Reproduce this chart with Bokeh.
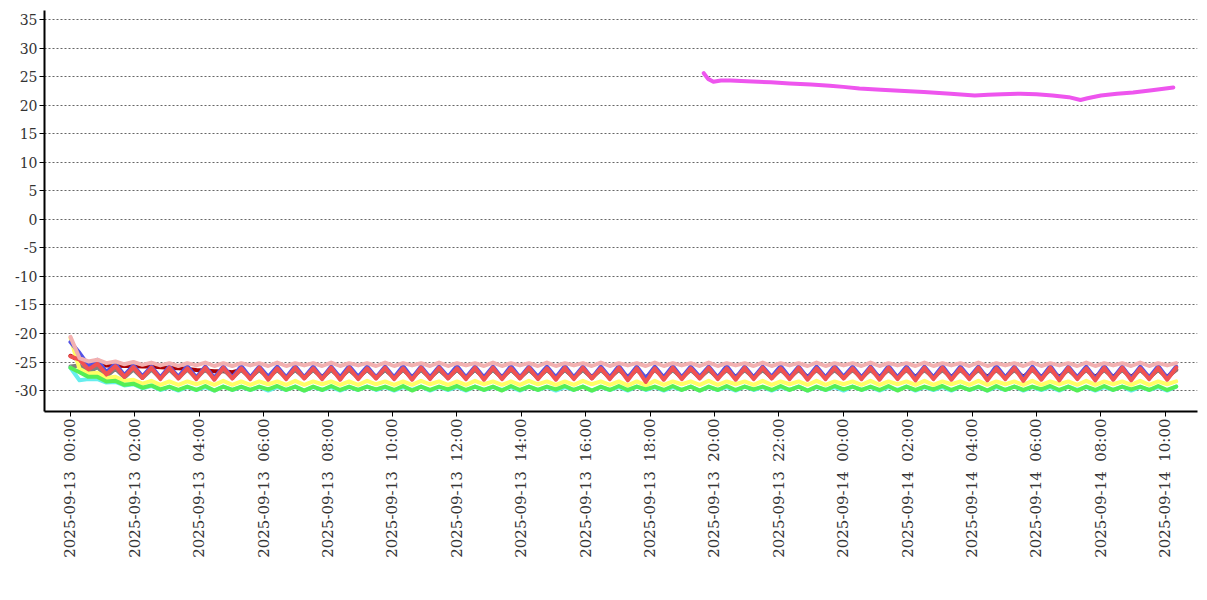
import math
import pandas as pd
from bokeh.plotting import figure
from bokeh.models import (Range1d, FixedTicker, DatetimeTickFormatter, Legend, LegendItem,
                          PrintfTickFormatter)
from bokeh.embed import file_html
from bokeh.resources import INLINE

# ---------------- data ----------------
series_names = ["A01", "A02", "A03", "A04", "A05", "A06", "A07", "A08", "A09"]
series_colors = ["#f05252", "#5252e6", "#55ee55", "#ffff66", "#ee55ee",
                 "#66eeee", "#f2b0b0", "#808080", "#aa0000"]

start_time = "2025-09-13 00:00"
sample_step = "1005s"   # logger sampling (about 16.75 min)

A01 = [-24.0, -24.6, -26.3, -25.3, -27.2, -25.7, -27.6, -25.9, -27.8, -26.0,
       -28.0, -26.0, -27.9, -26.1, -28.0, -26.0, -28.1, -26.0, -27.9, -26.1,
       -28.0, -26.0, -28.1, -26.1, -28.0, -26.0, -27.9, -26.1, -28.0, -26.0,
       -28.1, -26.0, -28.0, -26.1, -27.9, -26.0, -28.0, -26.1, -28.1, -26.0,
       -28.0, -26.0, -27.9, -26.1, -28.0, -26.0, -28.1, -26.0, -28.0, -26.1,
       -27.9, -26.0, -28.0, -26.1, -28.1, -26.0, -28.0, -26.0, -27.9, -26.1,
       -28.0, -26.0, -28.2, -26.1, -28.5, -26.1, -28.1, -26.0, -28.0, -26.1,
       -27.9, -26.0, -28.0, -26.1, -28.1, -26.0, -28.0, -26.0, -27.9, -26.1,
       -28.0, -26.0, -28.1, -26.1, -28.0, -26.0, -27.9, -26.1, -28.0, -26.0,
       -28.1, -26.0, -28.0, -26.1, -28.2, -26.0, -28.0, -26.0, -28.1, -26.1,
       -28.0, -26.0, -28.2, -26.1, -28.0, -26.0, -28.3, -26.1, -28.1, -26.0,
       -28.2, -26.0, -28.0, -26.1, -28.2, -26.0, -28.1, -26.0, -28.2, -26.1,
       -28.0, -26.0, -28.1, -26.0]

A02 = [-21.5, -23.4, -25.6, -24.6, -26.8, -25.3, -27.3, -25.6, -27.5, -25.8,
       -27.7, -25.8, -27.6, -25.7, -27.7, -25.8, -27.8, -25.8, -27.7, -25.7,
       -27.7, -25.8, -27.6, -25.8, -27.7, -25.7, -27.7, -25.8, -27.8, -25.8,
       -27.7, -25.7, -27.6, -25.8, -27.7, -25.8, -27.7, -25.7, -27.8, -25.8,
       -27.7, -25.8, -27.6, -25.7, -27.7, -25.8, -27.7, -25.8, -27.8, -25.7,
       -27.7, -25.8, -27.6, -25.8, -27.7, -25.7, -27.7, -25.8, -27.8, -25.8,
       -27.7, -25.7, -27.8, -25.8, -27.9, -25.8, -27.7, -25.7, -27.7, -25.8,
       -27.6, -25.8, -27.7, -25.7, -27.8, -25.8, -27.7, -25.8, -27.6, -25.7,
       -27.7, -25.8, -27.8, -25.8, -27.7, -25.7, -27.6, -25.8, -27.7, -25.8,
       -27.8, -25.7, -27.7, -25.8, -27.8, -25.8, -27.7, -25.7, -27.8, -25.8,
       -27.7, -25.8, -27.9, -25.7, -27.7, -25.8, -27.9, -25.8, -27.8, -25.7,
       -27.9, -25.8, -27.7, -25.8, -27.9, -25.7, -27.8, -25.8, -27.9, -25.8,
       -27.7, -25.7, -27.8, -25.8]

A03 = [-26.0, -26.8, -27.6, -27.6, -28.4, -28.3, -29.0, -28.8, -29.5, -29.1,
       -29.8, -29.3, -29.9, -29.3, -29.9, -29.2, -30.0, -29.3, -29.9, -29.3,
       -29.9, -29.3, -29.8, -29.2, -29.9, -29.3, -30.0, -29.3, -29.9, -29.2,
       -29.9, -29.3, -29.9, -29.3, -29.8, -29.3, -29.9, -29.2, -30.0, -29.3,
       -29.9, -29.3, -29.8, -29.2, -29.9, -29.3, -29.9, -29.3, -30.0, -29.2,
       -29.9, -29.3, -29.9, -29.3, -29.8, -29.2, -29.9, -29.3, -30.0, -29.3,
       -29.9, -29.2, -29.9, -29.3, -29.8, -29.3, -29.9, -29.2, -29.9, -29.3,
       -30.0, -29.3, -29.9, -29.2, -29.9, -29.3, -29.8, -29.3, -29.9, -29.2,
       -29.9, -29.3, -30.0, -29.3, -29.9, -29.2, -29.8, -29.3, -29.9, -29.3,
       -29.9, -29.2, -30.0, -29.3, -29.9, -29.3, -29.8, -29.2, -29.9, -29.3,
       -29.9, -29.3, -30.0, -29.2, -29.9, -29.3, -29.9, -29.3, -29.8, -29.2,
       -29.9, -29.3, -30.0, -29.3, -29.9, -29.2, -29.9, -29.3, -29.8, -29.3,
       -29.9, -29.2, -29.9, -29.3]

A04 = [-20.8, -26.2, -27.0, -26.9, -27.8, -27.6, -28.3, -28.1, -28.8, -28.3,
       -29.0, -28.4, -29.0, -28.4, -28.9, -28.4, -29.0, -28.3, -29.0, -28.4,
       -29.0, -28.4, -28.9, -28.4, -29.0, -28.3, -29.0, -28.4, -28.9, -28.4,
       -29.0, -28.4, -29.0, -28.3, -28.9, -28.4, -29.0, -28.4, -29.0, -28.3,
       -28.9, -28.4, -29.0, -28.4, -29.0, -28.3, -28.9, -28.4, -29.0, -28.4,
       -29.0, -28.3, -28.9, -28.4, -29.0, -28.4, -29.0, -28.3, -28.9, -28.4,
       -29.0, -28.4, -29.1, -28.4, -29.1, -28.3, -29.0, -28.4, -28.9, -28.4,
       -29.0, -28.3, -29.0, -28.4, -28.9, -28.4, -29.0, -28.3, -29.0, -28.4,
       -28.9, -28.4, -29.0, -28.3, -29.0, -28.4, -28.9, -28.4, -29.0, -28.3,
       -29.0, -28.4, -28.9, -28.4, -29.0, -28.3, -29.0, -28.4, -28.9, -28.4,
       -29.0, -28.3, -29.0, -28.4, -28.9, -28.4, -29.0, -28.3, -29.0, -28.4,
       -28.9, -28.4, -29.0, -28.3, -29.0, -28.4, -28.9, -28.4, -29.0, -28.3,
       -29.0, -28.4, -28.9, -28.4]

A06 = [-26.0, -28.2, -28.0, -28.0, -28.6, -28.5, -29.1, -28.9, -29.6, -29.2,
       -29.9, -29.4, -30.0, -29.4, -29.9, -29.4, -30.0, -29.3, -29.9, -29.4,
       -29.9, -29.4, -30.0, -29.4, -29.9, -29.3, -30.0, -29.4, -29.9, -29.4,
       -30.0, -29.4, -29.9, -29.3, -29.9, -29.4, -30.0, -29.4, -29.9, -29.3,
       -30.0, -29.4, -29.9, -29.4, -30.0, -29.3, -29.9, -29.4, -29.9, -29.4,
       -30.0, -29.3, -29.9, -29.4, -30.0, -29.4, -29.9, -29.3, -30.0, -29.4,
       -29.9, -29.4, -30.0, -29.3, -29.9, -29.4, -30.0, -29.4, -29.9, -29.3,
       -30.0, -29.4, -29.9, -29.4, -30.0, -29.3, -29.9, -29.4, -30.0, -29.4,
       -29.9, -29.3, -30.0, -29.4, -29.9, -29.4, -30.0, -29.3, -29.9, -29.4,
       -30.0, -29.4, -29.9, -29.3, -30.0, -29.4, -29.9, -29.4, -30.0, -29.3,
       -29.9, -29.4, -30.0, -29.4, -29.9, -29.3, -30.0, -29.4, -29.9, -29.4,
       -30.0, -29.3, -29.9, -29.4, -30.0, -29.4, -29.9, -29.3, -30.0, -29.4,
       -29.9, -29.4, -30.0, -29.3]

A07 = [-20.6, -24.3, -24.9, -24.6, -25.2, -24.9, -25.4, -25.0, -25.5, -25.1,
       -25.6, -25.2, -25.7, -25.2, -25.6, -25.1, -25.7, -25.2, -25.7, -25.2,
       -25.6, -25.2, -25.7, -25.1, -25.7, -25.2, -25.6, -25.2, -25.7, -25.1,
       -25.7, -25.2, -25.6, -25.2, -25.7, -25.1, -25.7, -25.2, -25.6, -25.2,
       -25.7, -25.1, -25.7, -25.2, -25.6, -25.2, -25.7, -25.1, -25.7, -25.2,
       -25.6, -25.2, -25.7, -25.1, -25.7, -25.2, -25.6, -25.2, -25.7, -25.1,
       -25.7, -25.2, -25.6, -25.2, -25.7, -25.1, -25.7, -25.2, -25.6, -25.2,
       -25.7, -25.1, -25.7, -25.2, -25.6, -25.2, -25.7, -25.1, -25.7, -25.2,
       -25.6, -25.2, -25.7, -25.1, -25.7, -25.2, -25.6, -25.2, -25.7, -25.1,
       -25.7, -25.2, -25.6, -25.2, -25.7, -25.1, -25.7, -25.2, -25.6, -25.2,
       -25.7, -25.1, -25.7, -25.2, -25.6, -25.2, -25.7, -25.1, -25.7, -25.2,
       -25.6, -25.2, -25.7, -25.1, -25.7, -25.2, -25.6, -25.2, -25.7, -25.1,
       -25.7, -25.2, -25.6, -25.2]

A08 = [-25.8, -25.6, -26.8, -25.9, -27.5, -26.2, -27.7, -26.3, -27.8, -26.3,
       -27.8, -26.3, -27.8, -26.3, -27.8, -26.3, -27.8, -26.3, -27.8, -26.3,
       -27.8, -26.3, -27.8, -26.3, -27.8, -26.3, -27.8, -26.3, -27.8, -26.3,
       -27.8, -26.3, -27.8, -26.3, -27.8, -26.3, -27.8, -26.3, -27.8, -26.3,
       -27.8, -26.3, -27.8, -26.3, -27.8, -26.3, -27.8, -26.3, -27.8, -26.3,
       -27.8, -26.3, -27.8, -26.3, -27.8, -26.3, -27.8, -26.3, -27.8, -26.3,
       -27.8, -26.3, -27.8, -26.3, -27.9, -26.3, -27.8, -26.3, -27.8, -26.3,
       -27.8, -26.3, -27.8, -26.3, -27.8, -26.3, -27.8, -26.3, -27.8, -26.3,
       -27.8, -26.3, -27.8, -26.3, -27.8, -26.3, -27.8, -26.3, -27.8, -26.3,
       -27.8, -26.3, -27.8, -26.3, -27.8, -26.3, -27.8, -26.3, -27.8, -26.3,
       -27.8, -26.3, -27.8, -26.3, -27.8, -26.3, -27.8, -26.3, -27.8, -26.3,
       -27.8, -26.3, -27.8, -26.3, -27.8, -26.3, -27.8, -26.3, -27.8, -26.3,
       -27.8, -26.3, -27.8, -26.3]

A09 = [-23.9, -24.8, -25.3, -25.4, -25.6, -25.6, -25.7, -25.7, -25.8, -25.8,
       -25.9, -26.0, -26.1, -26.2, -26.4, -26.5, -26.6, -26.6, -26.8, -26.4,
       -27.6, -26.4, -27.6, -26.4, -27.6, -26.4, -27.6, -26.4, -27.6, -26.4,
       -27.6, -26.4, -27.6, -26.4, -27.6, -26.4, -27.6, -26.4, -27.6, -26.4,
       -27.6, -26.4, -27.6, -26.4, -27.6, -26.4, -27.6, -26.4, -27.6, -26.4,
       -27.6, -26.4, -27.6, -26.4, -27.6, -26.4, -27.6, -26.4, -27.6, -26.4,
       -27.6, -26.4, -27.6, -26.4, -27.7, -26.4, -27.6, -26.4, -27.6, -26.4,
       -27.6, -26.4, -27.6, -26.4, -27.6, -26.4, -27.6, -26.4, -27.6, -26.4,
       -27.6, -26.4, -27.6, -26.4, -27.6, -26.4, -27.6, -26.4, -27.6, -26.4,
       -27.6, -26.4, -27.6, -26.4, -27.6, -26.4, -27.6, -26.4, -27.6, -26.4,
       -27.6, -26.4, -27.6, -26.4, -27.6, -26.4, -27.6, -26.4, -27.6, -26.4,
       -27.6, -26.4, -27.6, -26.4, -27.6, -26.4, -27.6, -26.4, -27.6, -26.4,
       -27.6, -26.4, -27.6, -26.4]

A05_times = ["2025-09-13 19:40", "2025-09-13 19:48", "2025-09-13 19:58", "2025-09-13 20:12",
             "2025-09-13 20:30", "2025-09-13 21:00", "2025-09-13 21:45", "2025-09-13 22:20",
             "2025-09-13 23:00", "2025-09-13 23:35", "2025-09-14 00:00", "2025-09-14 00:30",
             "2025-09-14 01:10", "2025-09-14 01:45", "2025-09-14 02:30", "2025-09-14 03:20",
             "2025-09-14 04:05", "2025-09-14 04:30", "2025-09-14 04:55", "2025-09-14 05:30",
             "2025-09-14 06:00", "2025-09-14 06:30", "2025-09-14 07:00", "2025-09-14 07:22",
             "2025-09-14 07:35", "2025-09-14 08:00", "2025-09-14 08:30", "2025-09-14 09:00",
             "2025-09-14 09:35", "2025-09-14 10:15"]
A05 = [25.6, 24.6, 24.1, 24.3, 24.3, 24.2, 24.0, 23.8, 23.6, 23.4,
       23.2, 22.9, 22.7, 22.5, 22.3, 22.0, 21.7, 21.8, 21.9, 22.0,
       21.9, 21.7, 21.4, 20.9, 21.2, 21.7, 22.0, 22.2, 22.6, 23.1]

y_ticks = [-30, -25, -20, -15, -10, -5, 0, 5, 10, 15, 20, 25, 30, 35]
x_tick_start = "2025-09-13 00:00"
x_tick_count = 18
x_tick_step = "2h"
x_start = "2025-09-12 23:11:36"
x_end = "2025-09-14 11:00"
y_start, y_end = -33.67, 36.58

# ---------------- figure ----------------
FONT = "DejaVu Serif"

p = figure(frame_width=1153, frame_height=401, x_axis_type="datetime",
           output_backend="svg", toolbar_location=None,
           x_range=Range1d(pd.Timestamp(x_start), pd.Timestamp(x_end)),
           y_range=Range1d(y_start, y_end),
           min_border_left=44, min_border_right=10, min_border_top=10,
           min_border_bottom=0)
p.outline_line_color = None
p.background_fill_color = "white"
p.border_fill_color = "white"

p.xgrid.grid_line_color = None
p.ygrid.grid_line_color = "#666666"
p.ygrid.grid_line_dash = "2 2"
p.ygrid.grid_line_width = 1

# y axis
p.yaxis.ticker = FixedTicker(ticks=y_ticks)
p.yaxis.formatter = PrintfTickFormatter(format="%d")
p.yaxis.axis_line_width = 2
p.yaxis.axis_line_color = "black"
p.yaxis.major_tick_out = 5
p.yaxis.major_tick_in = 0
p.yaxis.minor_tick_line_color = None
p.yaxis.major_label_standoff = 2
p.yaxis.major_label_text_font = FONT
p.yaxis.major_label_text_font_size = "14px"
p.yaxis.major_label_text_color = "#333333"

# x axis
tick_times = pd.date_range(x_tick_start, periods=x_tick_count, freq=x_tick_step)
tick_ms = [int((t - pd.Timestamp("1970-01-01")) / pd.Timedelta("1ms")) for t in tick_times]
p.xaxis.ticker = FixedTicker(ticks=tick_ms)
fmt = "%Y-%m-%d\u00a0\u00a0%H:%M"
p.xaxis.formatter = DatetimeTickFormatter(
    milliseconds=fmt, seconds=fmt, minsec=fmt, minutes=fmt, hourmin=fmt,
    hours=fmt, days=fmt, months=fmt, years=fmt)
p.xaxis.major_label_orientation = math.pi / 2
p.xaxis.axis_line_width = 2
p.xaxis.axis_line_color = "black"
p.xaxis.major_tick_out = 5
p.xaxis.major_tick_in = 0
p.xaxis.minor_tick_line_color = None
p.xaxis.major_label_standoff = 2
p.xaxis.major_label_text_font = FONT
p.xaxis.major_label_text_font_size = "15px"
p.xaxis.major_label_text_color = "#333333"

# ---------------- lines ----------------
values = {"A01": A01, "A02": A02, "A03": A03, "A04": A04, "A06": A06,
          "A07": A07, "A08": A08, "A09": A09}
colors = dict(zip(series_names, series_colors))
draw_order = ["A09", "A08", "A04", "A06", "A03", "A02", "A01", "A07", "A05"]
renderers = {}
for name in draw_order:
    if name == "A05":
        xs = pd.to_datetime(A05_times)
        ys = A05
    else:
        ys = values[name]
        xs = pd.date_range(start_time, periods=len(ys), freq=sample_step)
    renderers[name] = p.line(x=xs, y=ys, line_color=colors[name], line_width=4,
                             line_join="round", line_cap="round")

legend = Legend(items=[LegendItem(label=n, renderers=[renderers[n]]) for n in series_names],
                orientation="horizontal", location="center", margin=0,
                padding=2, spacing=2, glyph_width=20, glyph_height=27,
                label_standoff=2, label_text_font=FONT, label_text_font_size="18px",
                label_text_color="#333333", border_line_color="black",
                border_line_width=1, background_fill_color="white",
                background_fill_alpha=1.0)
p.add_layout(legend, "below")

open("out.html", "w").write(file_html(p, INLINE))
